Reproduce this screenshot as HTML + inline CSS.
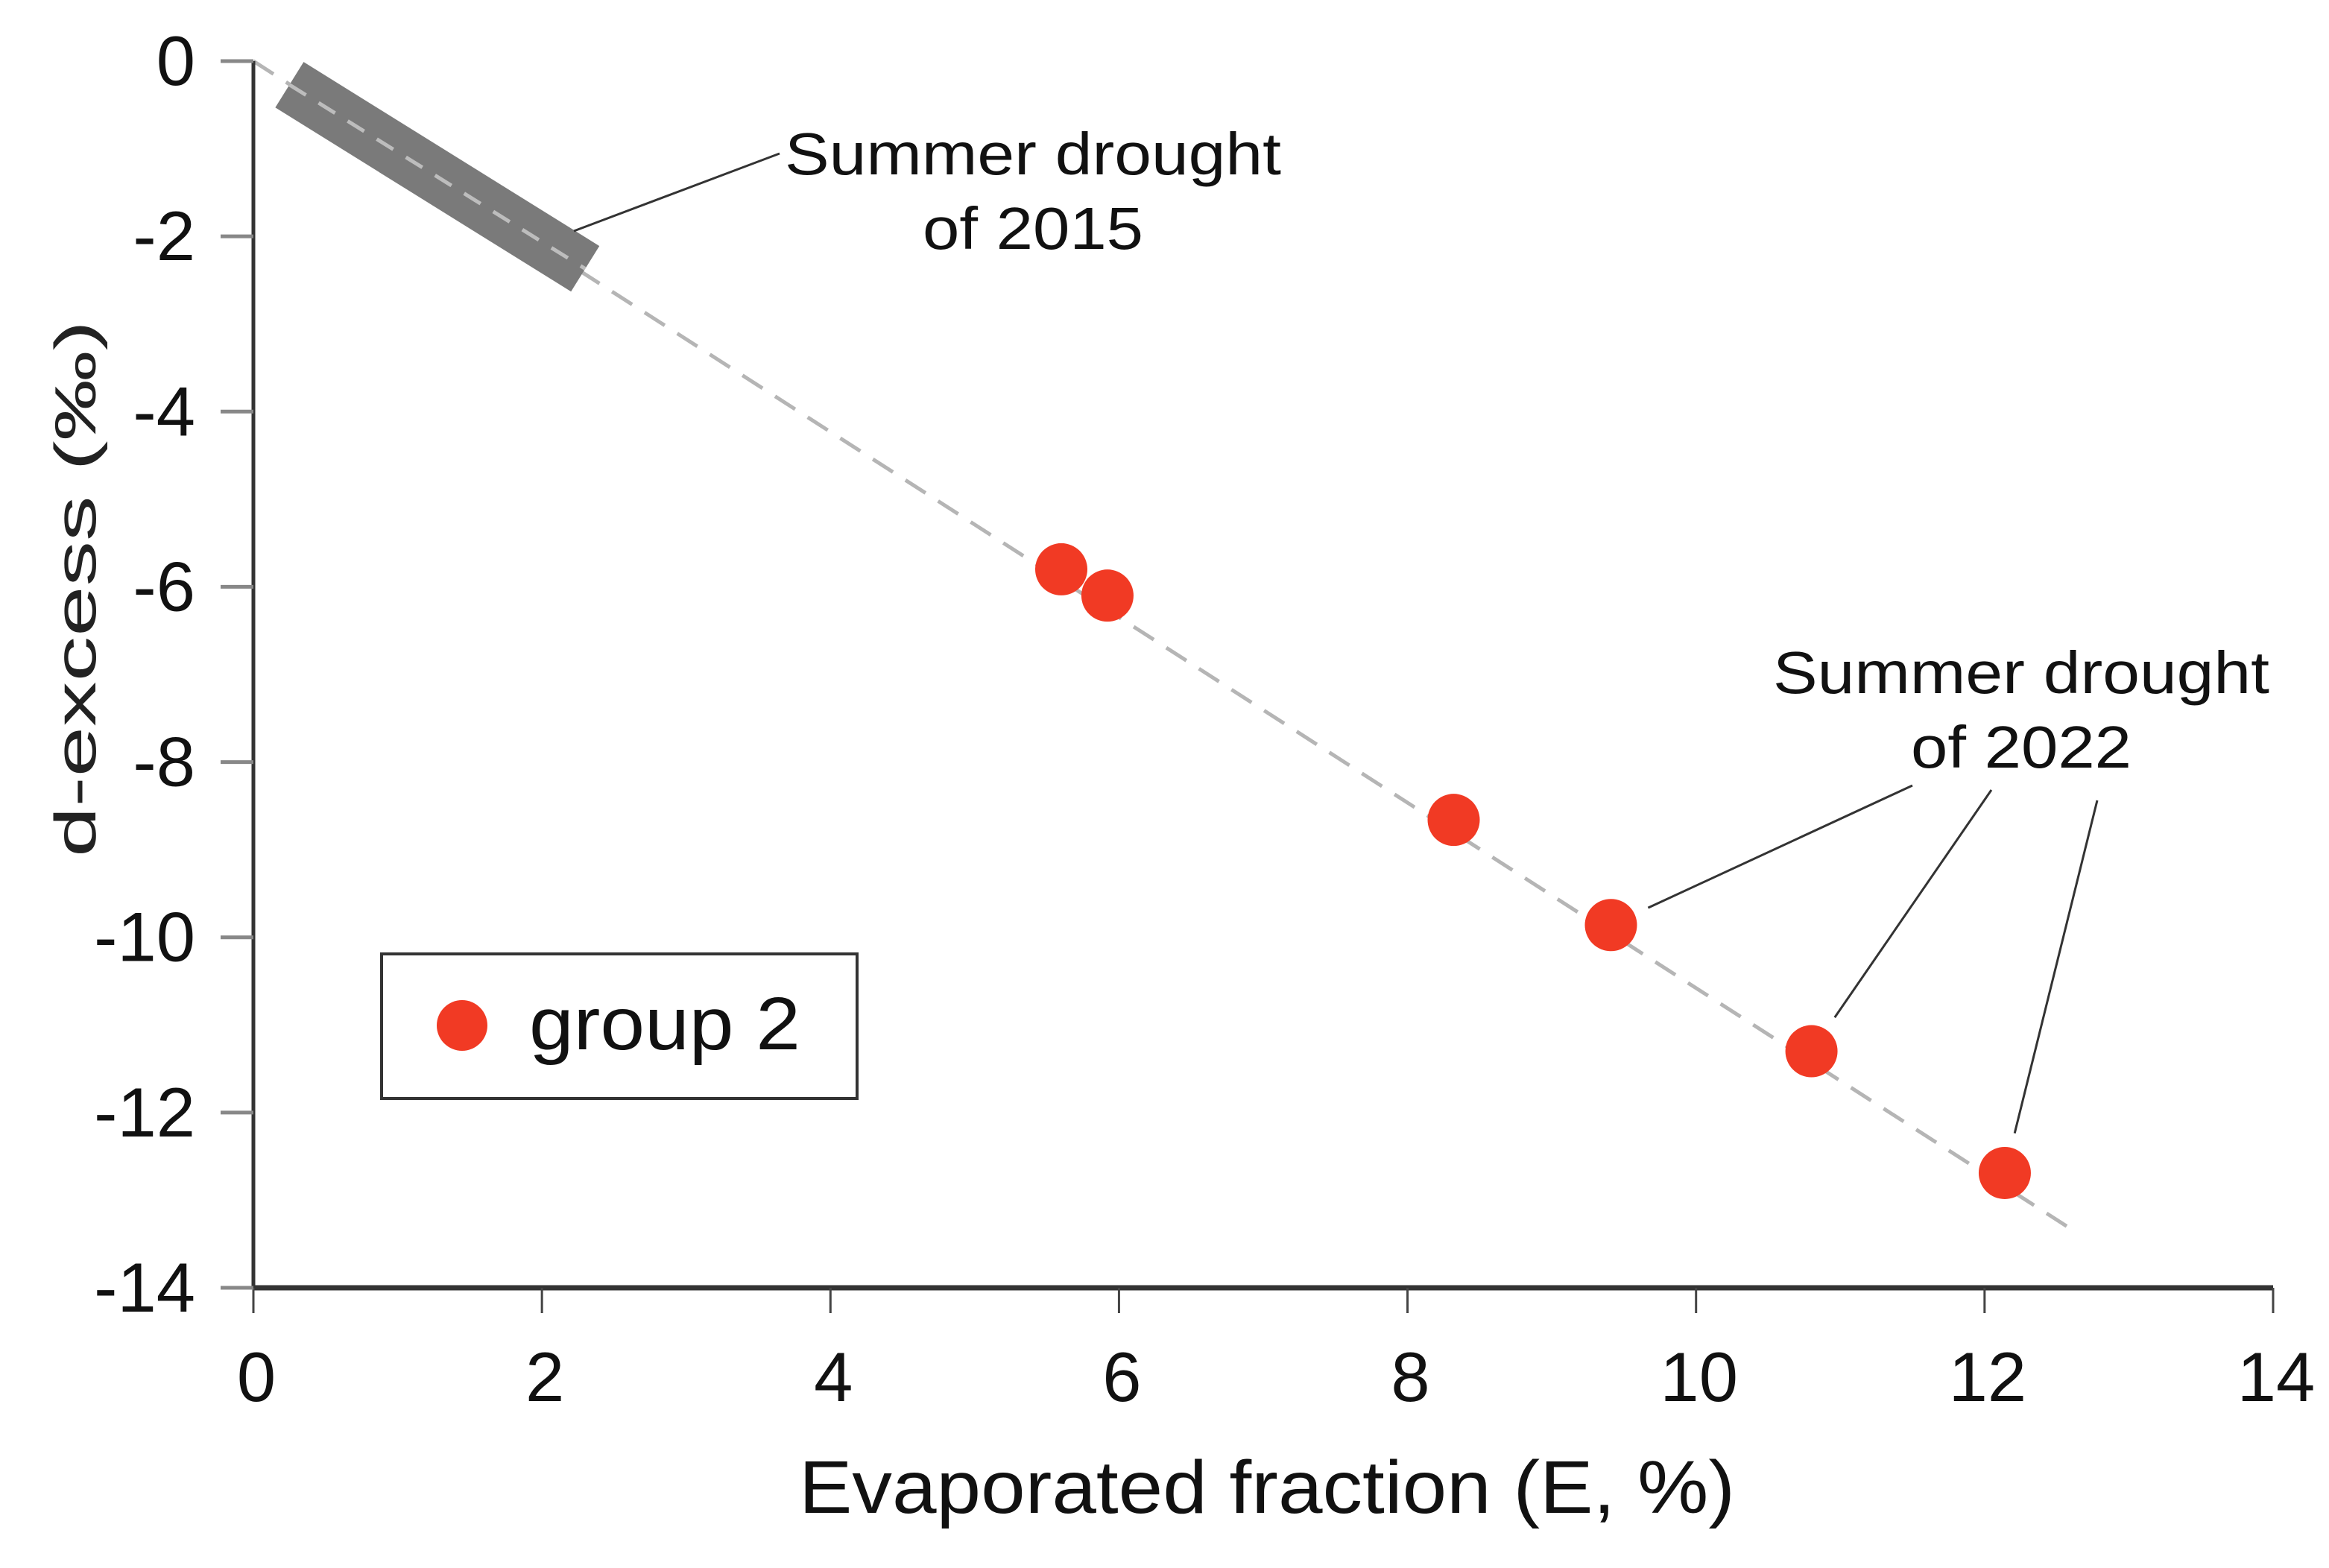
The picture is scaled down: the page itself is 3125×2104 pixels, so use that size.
<!DOCTYPE html>
<html><head><meta charset="utf-8"><style>
html,body{margin:0;padding:0;background:#fff;}
svg{display:block;font-family:"Liberation Sans",sans-serif;}
</style></head><body>
<svg id="chart" width="3125" height="2104" viewBox="0 0 3125 2104">
<g id="plot"></g>
</svg>
<script>
const xTicks = [0,2,4,6,8,10,12,14];
const yTicks = [0,-2,-4,-6,-8,-10,-12,-14];
const pointsE = [5.6,5.92,8.32,9.41,10.8,12.14];
const pointsD = [-5.8,-6.1,-8.66,-9.86,-11.3,-12.69];
const fitLineE = [0,12.6];
const fitLineD = [0,-13.33];
const band2015E = [0.25,2.3];
const band2015D = [-0.27,-2.37];
const callout2022Idx = [3,4,5];

const X0=340,X1=3050,Y0=82,Y1=1728;
function sx(v){return X0+(v-0)/(14-0)*(X1-X0);}
function sy(v){return Y0+(0-v)/(0+14)*(Y1-Y0);}
const NS='http://www.w3.org/2000/svg';
const g=document.getElementById('plot');
function mk(tag,attrs,parent){const e=document.createElementNS(NS,tag);for(const k in attrs)e.setAttribute(k,attrs[k]);(parent||g).appendChild(e);return e;}

let e=mk('line',{x1:sx(fitLineE[0]),y1:sy(fitLineD[0]),x2:sx(fitLineE[1]),y2:sy(fitLineD[1]),stroke:'#b5b5b5','stroke-width':5,'stroke-dasharray':'32 20'});


e=mk('line',{x1:sx(band2015E[0]),y1:sy(band2015D[0]),x2:sx(band2015E[1]),y2:sy(band2015D[1]),stroke:'#7a7a7a','stroke-width':72});


e=mk('line',{x1:sx(band2015E[0]),y1:sy(band2015D[0]),x2:sx(band2015E[1]),y2:sy(band2015D[1]),stroke:'#bdbdbd','stroke-width':5,'stroke-dasharray':'26 20'});



e=mk('line',{x1:X0,y1:Y0,x2:X0,y2:Y1,stroke:'#333','stroke-width':5});


e=mk('line',{x1:X0,y1:Y1,x2:X1,y2:Y1,stroke:'#333','stroke-width':7});


xTicks.forEach(v=>{
  let t=mk('line',{x1:sx(v),y1:Y1,x2:sx(v),y2:Y1+34,stroke:'#444','stroke-width':3});
  
  
  let l=mk('text',{x:sx(v)+4,y:1880,'text-anchor':'middle','font-size':94,fill:'#111'});
  l.textContent=v;
  
  
});
yTicks.forEach(v=>{
  let t=mk('line',{x1:X0-44,y1:sy(v),x2:X0,y2:sy(v),stroke:'#888','stroke-width':5});
  
  
  let l=mk('text',{x:262,y:sy(v)+32,'text-anchor':'end','font-size':94,fill:'#111'});
  l.textContent=v;
  
  
});
e=mk('text',{x:1700,y:2030,'text-anchor':'middle','font-size':100,fill:'#111',textLength:1256,lengthAdjust:'spacingAndGlyphs'});
e.textContent='Evaporated fraction (E, %)';


e=mk('text',{x:0,y:0,'text-anchor':'middle','font-size':78,fill:'#222',transform:'translate(128,790) rotate(-90)',textLength:720,lengthAdjust:'spacingAndGlyphs'});
e.textContent='d-excess (‰)';



e=mk('line',{x1:770,y1:310,x2:1046,y2:206,stroke:'#333','stroke-width':3});


const ends2022=[[2566,1054],[2672,1060],[2814,1074]];
callout2022Idx.forEach((i,k)=>{
  const px=sx(pointsE[i]),py=sy(pointsD[i]);
  const dx=ends2022[k][0]-px,dy=ends2022[k][1]-py,d=Math.hypot(dx,dy);
  let l=mk('line',{x1:px+dx/d*55,y1:py+dy/d*55,x2:ends2022[k][0],y2:ends2022[k][1],stroke:'#333','stroke-width':3});
  
  
});
[['Summer drought',1386,234,666],['of 2015',1386,334,296],['Summer drought',2712,930,666],['of 2022',2712,1030,296]].forEach(a=>{
  let t=mk('text',{x:a[1],y:a[2],'text-anchor':'middle','font-size':80,fill:'#111',textLength:a[3],lengthAdjust:'spacingAndGlyphs'});
  t.textContent=a[0];
  
  
});

pointsE.forEach((v,i)=>{
  let c=mk('circle',{cx:sx(v),cy:sy(pointsD[i]),r:35,fill:'#f13a24'});
  
  
});

e=mk('rect',{x:512,y:1280,width:638,height:194,fill:'#fff',stroke:'#333','stroke-width':4});


e=mk('circle',{cx:620,cy:1376,r:34,fill:'#f13a24'});


e=mk('text',{x:710,y:1408,'font-size':100,fill:'#111',textLength:364,lengthAdjust:'spacingAndGlyphs'});
e.textContent='group 2';


</script>
</body></html>
